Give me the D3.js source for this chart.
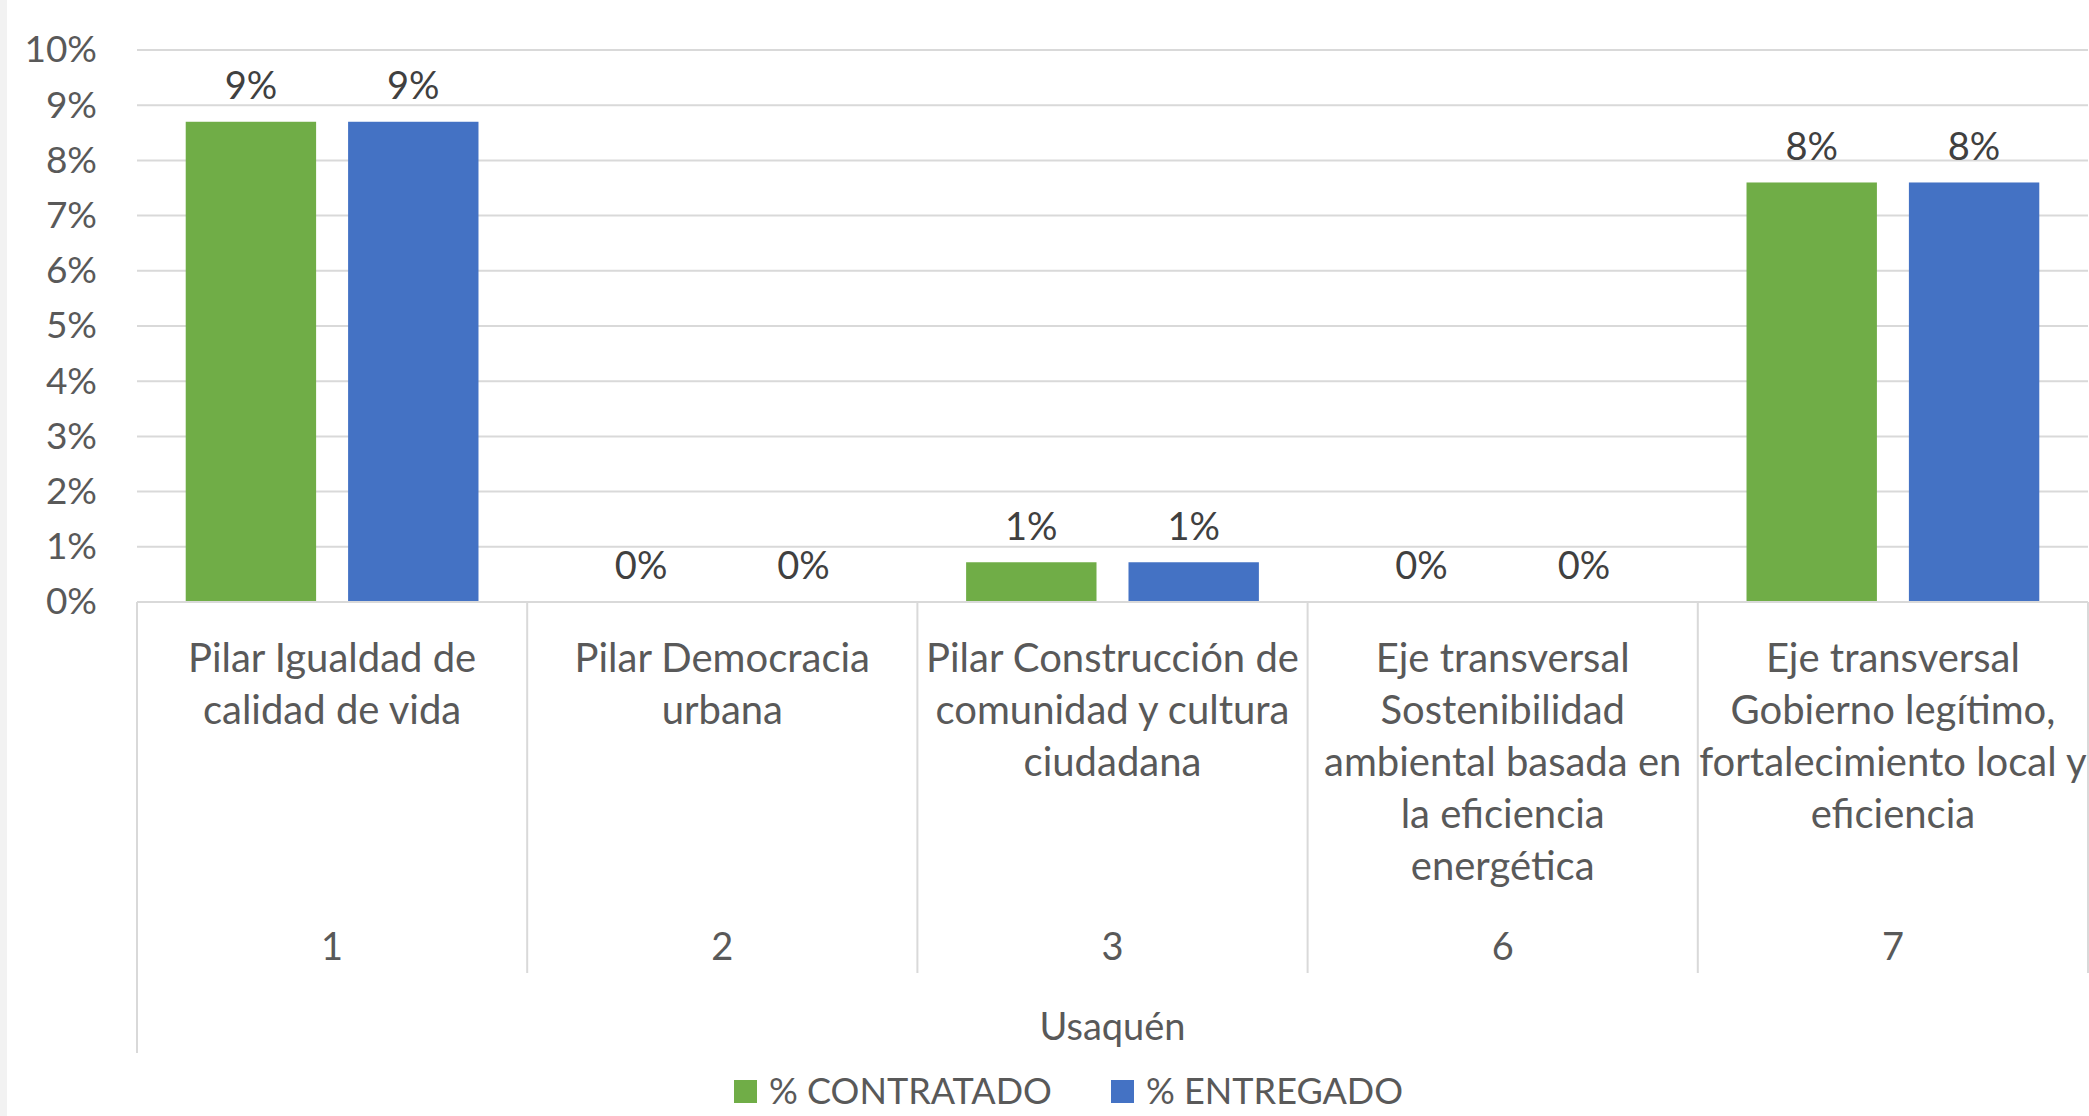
<!DOCTYPE html>
<html><head><meta charset="utf-8">
<script src="https://cdn.jsdelivr.net/npm/d3@7"></script>
<style>
html,body{margin:0;padding:0;background:#fff;overflow:hidden}
svg{display:block}
text{font-family:Lato,"Open Sans",sans-serif;fill:#595959}
</style></head><body>
<svg id="c" width="2089" height="1116"></svg>
<script>
const categoryCodes = ["1","2","3","6","7"];
const categoryNames = [
  ["Pilar Igualdad de","calidad de vida"],
  ["Pilar Democracia","urbana"],
  ["Pilar Construcción de","comunidad y cultura","ciudadana"],
  ["Eje transversal","Sostenibilidad","ambiental basada en","la eficiencia","energética"],
  ["Eje transversal","Gobierno legítimo,","fortalecimiento local y","eficiencia"]
];
const groupLabel = "Usaquén";
const seriesNames = ["% CONTRATADO","% ENTREGADO"];
const contratado = [0.087, 0, 0.0072, 0, 0.076];
const entregado  = [0.087, 0, 0.0072, 0, 0.076];
const yTicks = [0,0.01,0.02,0.03,0.04,0.05,0.06,0.07,0.08,0.09,0.10];
const colors = ["#70ad47","#4472c4"];

(function(){
const svg = d3.select("#c");
svg.append("rect").attr("x",0).attr("y",0).attr("width",7).attr("height",1116).attr("fill","#f2f2f2");

const pL = 137, pR = 2088, pT = 50, pB = 602;
const y = d3.scaleLinear().domain([0,0.10]).range([pB, pT]);
const x0 = d3.scaleBand().domain(categoryCodes).range([pL, pR]).paddingInner(0).paddingOuter(0);
const x1 = d3.scaleBand().domain(seriesNames).range([0, x0.bandwidth()]).paddingInner(0.197).paddingOuter(0.30);

const FS = 38, CFS = 40;
svg.append("g").selectAll("line").data(yTicks).join("line")
  .attr("x1",pL).attr("x2",pR).attr("y1",d=>y(d)).attr("y2",d=>y(d))
  .attr("stroke","#d9d9d9").attr("stroke-width",2);
const yAxis = d3.axisLeft(y).tickValues(yTicks).tickFormat(d3.format(".0%")).tickSize(0).tickPadding(40);
const ya = svg.append("g").attr("transform",`translate(${pL},0)`).call(yAxis);
ya.select(".domain").remove();
ya.selectAll("text").attr("font-size",37).attr("fill","#595959").style("font-family","Lato");

const series = [contratado, entregado];
const g = svg.append("g");
categoryCodes.forEach((c,i)=>{
  series.forEach((s,j)=>{
    const v = s[i];
    const bx = x0(c)+x1(seriesNames[j]);
    if (v>0) g.append("rect").attr("x",bx).attr("y",y(v)).attr("width",x1.bandwidth()).attr("height",y(0)-y(v)).attr("fill",colors[j]);
    g.append("text").attr("x",bx+x1.bandwidth()/2).attr("y",y(v)-36).attr("dy","0.35em")
      .attr("text-anchor","middle").attr("font-size",FS).style("fill","#404040")
      .text(d3.format(".0%")(v));
  });
});

const ax = svg.append("g").attr("stroke","#d9d9d9").attr("stroke-width",2);
ax.append("line").attr("x1",pL).attr("x2",pR).attr("y1",pB).attr("y2",pB);
ax.append("line").attr("x1",pL).attr("x2",pL).attr("y1",pB).attr("y2",1053);
categoryCodes.forEach((c,i)=>{
  const xr = x0(c)+x0.bandwidth();
  ax.append("line").attr("x1",xr).attr("x2",xr).attr("y1",pB).attr("y2",973);
});

categoryCodes.forEach((c,i)=>{
  const cx = x0(c)+x0.bandwidth()/2;
  const t = svg.append("text").attr("text-anchor","middle").attr("font-size",CFS);
  categoryNames[i].forEach((ln,k)=>{
    t.append("tspan").attr("x",cx).attr("y",658+k*52).attr("dy","0.35em").text(ln);
  });
  svg.append("text").attr("x",cx).attr("y",947).attr("dy","0.35em").attr("text-anchor","middle").attr("font-size",FS).text(c);
});
svg.append("text").attr("x",(pL+pR)/2).attr("y",1027).attr("dy","0.35em").attr("text-anchor","middle").attr("font-size",FS).text(groupLabel);

const legX = [734, 1111];
seriesNames.forEach((n,j)=>{
  svg.append("rect").attr("x",legX[j]).attr("y",1080).attr("width",23).attr("height",23).attr("fill",colors[j]);
  svg.append("text").attr("x",legX[j]+35).attr("y",1091).attr("dy","0.35em").attr("font-size",36).text(n);
});
})();
</script></body></html>
